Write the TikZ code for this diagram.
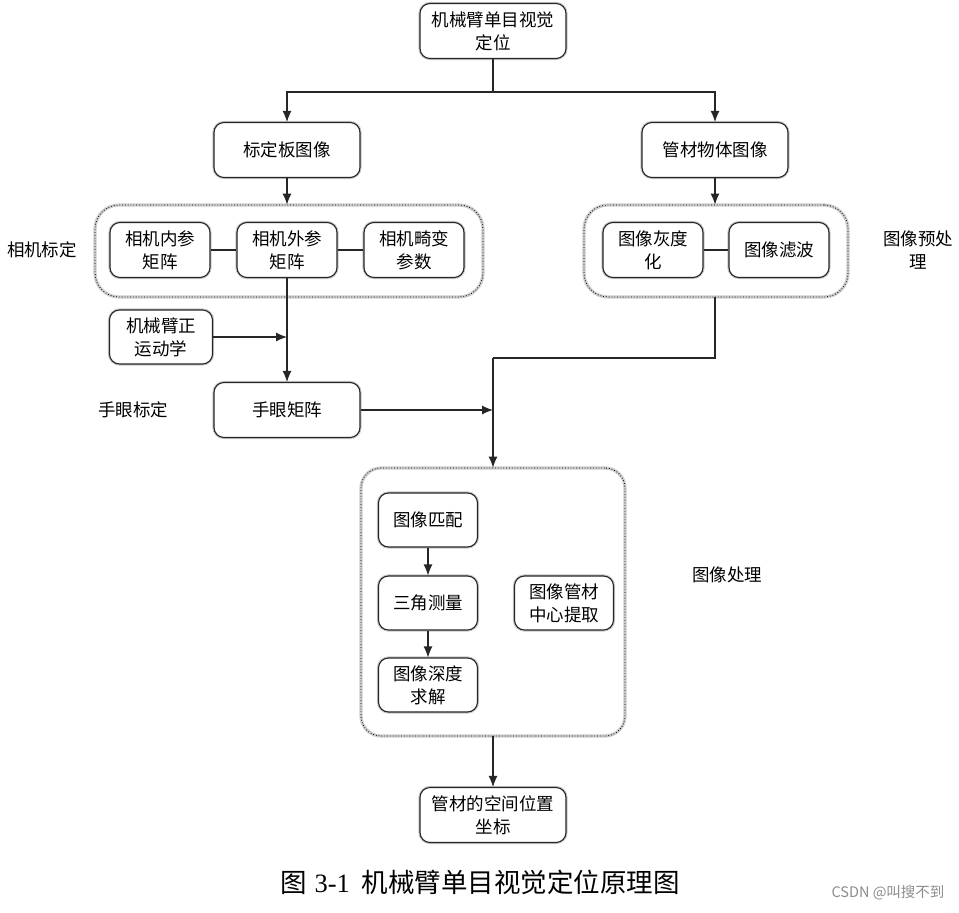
\documentclass[tikz,border=0pt]{standalone}
\usepackage{fontspec}
\setmainfont{Noto Sans CJK SC}
\newfontfamily\capnum{Liberation Serif}
\usetikzlibrary{arrows.meta}
\usetikzlibrary{positioning}

\begin{document}
\begin{tikzpicture}[
  x=1pt, y=-1pt,
  > = {Latex[length=11pt,width=9pt]},
  every node/.style = {font=\fontsize{17.5}{23}\selectfont},
  line/.style = {draw=black!85, line width=1.1pt},
  box/.style = {line, fill=white, rounded corners=10pt, align=center, inner sep=0pt,
    preaction={draw=black!22, line width=3.2pt}},
  bigbox/.style = {box, minimum width=146pt, minimum height=55pt},
  smallbox/.style = {box, minimum width=100pt, minimum height=55pt},
  group/.style = {draw=black, dotted, line width=0.8pt, rounded corners=24pt,
    preaction={draw=black!20, solid, line width=3.2pt}},
  tag/.style = {align=center}
  ]
	\useasboundingbox (0,0) rectangle (959,913);

	% groups
	\node[group, minimum width=388pt, minimum height=92pt] (camgroup) at (289,251) {};
	\node[group, minimum width=264pt, minimum height=92pt] (pregroup) at (716,251) {};
	\node[group, rounded corners=20pt, minimum width=264pt, minimum height=268pt] (procgroup) at (493,602) {};

	% nodes
	\node[bigbox] (top) at (493,31) {机械臂单目视觉\\定位};
	\node[bigbox] (calib) at (287,150) {标定板图像};
	\node[bigbox] (tubeimg) at (715,150) {管材物体图像};

	\node[smallbox] (intr) at (160,250) {相机内参\\矩阵};
	\node[smallbox] (extr) at (287,250) {相机外参\\矩阵};
	\node[smallbox] (dist) at (414,250) {相机畸变\\参数};
	\node[smallbox] (gray) at (653,250) {图像灰度\\化};
	\node[smallbox] (filt) at (779,250) {图像滤波};

	\node[smallbox, minimum width=103pt, minimum height=54pt] (fk) at (161,337) {机械臂正\\运动学};
	\node[bigbox] (hand) at (287,410) {手眼矩阵};

	\node[smallbox, minimum width=99pt, minimum height=54pt] (match) at (428,520) {图像匹配};
	\node[smallbox, minimum width=99pt, minimum height=54pt] (tri) at (428,603) {三角测量};
	\node[smallbox, minimum width=99pt, minimum height=54pt] (depth) at (428,685) {图像深度\\求解};
	\node[smallbox, minimum width=99pt, minimum height=54pt] (tubecenter) at (564,603) {图像管材\\中心提取};

	\node[bigbox] (result) at (493,815) {管材的空间位置\\坐标};

	% labels
	\node[tag] (camtag) at (42,250) {相机标定};
	\node[tag] (pretag) at (918,250) {图像预处\\理};
	\node[tag] (handtag) at (133,410) {手眼标定};
	\node[tag] (proctag) at (727,575) {图像处理};

	\node (caption) at (480,882) {\fontsize{26.5}{30}\selectfont 图\hspace{8pt}{\capnum 3-1}\hspace{12pt}机械臂单目视觉定位原理图};
	\node[text=black!45] (mark) at (888,893) {\fontsize{14.5}{16}\selectfont CSDN @叫搜不到};

	% connectors
	\coordinate (split) at (493,92);
	\coordinate (fkjoin) at (287,337);
	\coordinate (merge) at (493,358);
	\coordinate (handjoin) at (493,410);

	\draw[line] (top) -- (split);
	\draw[line,->] (split) -| (calib);
	\draw[line,->] (split) -| (tubeimg);
	\draw[line,->] (calib) -- (calib |- camgroup.north);
	\draw[line,->] (tubeimg) -- (tubeimg |- pregroup.north);

	\draw[line] (intr) -- (extr);
	\draw[line] (extr) -- (dist);
	\draw[line] (gray) -- (filt);

	\draw[line,->] (extr) -- (hand);
	\draw[line,->] (fk) -- (fkjoin);
	\draw[line] (tubeimg |- pregroup.south) |- (merge);
	\draw[line,->] (merge) -- (procgroup.north);
	\draw[line,->] (hand) -- (handjoin);

	\draw[line,->] (match) -- (tri);
	\draw[line,->] (tri) -- (depth);
	\draw[line,->] (procgroup) -- (result);

\end{tikzpicture}
\end{document}
